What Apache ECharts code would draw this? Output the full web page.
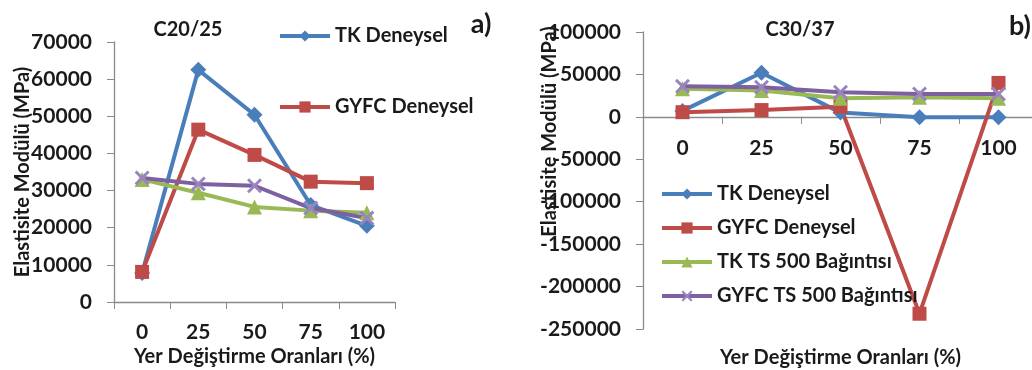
<!DOCTYPE html>
<html>
<head>
<meta charset="utf-8">
<script src="https://cdn.jsdelivr.net/npm/echarts@6/dist/echarts.min.js"></script>
<style>
  html, body { margin: 0; padding: 0; background: #fff; }
  #main { width: 1032px; height: 370px; }
</style>
</head>
<body>
<div id="main"></div>
<script>
// kategoriler (yer değiştirme oranı, %)
const categories = ['0', '25', '50', '75', '100'];

// C20/25 (a)
const tkDeneyselA = [7800, 62500, 50400, 26100, 20500];
const gyfcDeneyselA = [8100, 46400, 39600, 32400, 32000];
const tkTs500A = [33000, 29400, 25600, 24600, 24000];
const gyfcTs500A = [33400, 31800, 31300, 25300, 22600];

// C30/37 (b)
const tkDeneyselB = [7000, 52000, 5000, -500, -500];
const gyfcDeneyselB = [5500, 8000, 12000, -232000, 40000];
const tkTs500B = [33000, 31000, 22000, 23000, 22000];
const gyfcTs500B = [36000, 35000, 29000, 27000, 27000];

const leftTicks = { min: 0, max: 70000, interval: 10000 };
const rightTicks = { min: -250000, max: 100000, interval: 50000 };

const FONT = 'Lato';
const TXT = '#1a1a1a';
const AXIS = '#8a8a8a';
const colors = ['#4a7ebb', '#be4b48', '#98b954', '#7d60a0'];
const xSymbol = 'path://M0,1.4L1.4,0L10,8.6L8.6,10Z M8.6,0L10,1.4L1.4,10L0,8.6Z';

const gridA = { left: 114, top: 42, width: 281, height: 260 };
const gridB = { left: 643, top: 32, width: 395, height: 297 };
// b) grafiğinde x ekseni sıfır çizgisinde duruyor
const zeroOffsetB = -gridB.height * (0 - rightTicks.min) / (rightTicks.max - rightTicks.min);

let myChart = echarts.init(document.getElementById('main'));

function xAxisOf(gridIndex, labelMargin, nameGap, offset) {
    return {
        type: 'category',
        gridIndex: gridIndex,
        data: categories,
        boundaryGap: true,
        position: 'bottom',
        offset: offset,
        name: 'Yer Değiştirme Oranları (%)',
        nameLocation: 'middle',
        nameGap: nameGap,
        nameMoveOverlap: false,
        nameTextStyle: { fontFamily: FONT, fontWeight: 'bold', fontSize: 20, color: TXT },
        axisLine: { onZero: false, lineStyle: { color: AXIS, width: 1.3 } },
        axisTick: { show: true, length: 7, lineStyle: { color: AXIS } },
        axisLabel: { margin: labelMargin, fontFamily: FONT, fontWeight: 'bold', fontSize: 21, color: TXT },
        splitLine: { show: false }
    };
}

function yAxisOf(gridIndex, ticks, nameGap, namePadding) {
    return {
        type: 'value',
        gridIndex: gridIndex,
        min: ticks.min,
        max: ticks.max,
        interval: ticks.interval,
        name: 'Elastisite Modülü (MPa)',
        nameLocation: 'middle',
        nameGap: nameGap,
        nameMoveOverlap: false,
        nameTextStyle: { fontFamily: FONT, fontWeight: 'bold', fontSize: 20, color: TXT,
                         padding: namePadding },
        axisLine: { show: true, lineStyle: { color: AXIS, width: 1.3 } },
        axisTick: { show: true, length: 7, lineStyle: { color: AXIS } },
        axisLabel: { margin: 22, fontFamily: FONT, fontWeight: 'bold', fontSize: 21, color: TXT,
                     formatter: function (v) { return String(v); } },
        splitLine: { show: false }
    };
}

function seriesOf(name, data, idx, symbol, axisIdx) {
    return {
        name: name,
        type: 'line',
        xAxisIndex: axisIdx,
        yAxisIndex: axisIdx,
        data: data,
        symbol: symbol,
        symbolSize: symbol === 'diamond' ? 16 : (symbol === 'rect' ? 14 : 15),
        showSymbol: true,
        lineStyle: { width: 4, color: colors[idx] },
        itemStyle: { color: idx === 3 ? '#9a84c0' : colors[idx] },
        emphasis: { disabled: true },
        animation: false
    };
}

const legendText = { fontFamily: FONT, fontWeight: 'bold', fontSize: 20, color: TXT };
const legendLine = { width: 4 };

myChart.setOption({
    animation: false,
    title: [
        { text: 'C20/25', left: 183, top: 15, textAlign: 'center',
          textStyle: { fontFamily: FONT, fontWeight: 'bold', fontSize: 20, color: TXT } },
        { text: 'C30/37', left: 795, top: 15, textAlign: 'center',
          textStyle: { fontFamily: FONT, fontWeight: 'bold', fontSize: 20, color: TXT } },
        { text: 'a)', left: 476, top: 6, textAlign: 'center',
          textStyle: { fontFamily: FONT, fontWeight: 'bold', fontSize: 27, color: TXT } },
        { text: 'b)', left: 1015, top: 8, textAlign: 'center',
          textStyle: { fontFamily: FONT, fontWeight: 'bold', fontSize: 27, color: TXT } }
    ],
    legend: [
        { data: ['TK Deneysel'], left: 273, top: 21, itemWidth: 50, itemHeight: 14,
          textStyle: legendText, lineStyle: legendLine, selectedMode: false },
        { data: ['GYFC Deneysel'], left: 273, top: 92, itemWidth: 50, itemHeight: 14,
          textStyle: legendText, lineStyle: legendLine, selectedMode: false },
        { data: ['TK Deneysel', 'GYFC Deneysel', 'TK TS 500 Bağıntısı', 'GYFC TS 500 Bağıntısı'],
          orient: 'vertical', left: 655, top: 179, itemGap: 14, itemWidth: 50, itemHeight: 14,
          textStyle: legendText, lineStyle: legendLine, selectedMode: false }
    ],
    grid: [
        Object.assign({ outerBoundsMode: 'none' }, gridA),
        Object.assign({ outerBoundsMode: 'none' }, gridB)
    ],
    xAxis: [xAxisOf(0, 20, 45, 0), xAxisOf(1, 21, 231, zeroOffsetB)],
    yAxis: [yAxisOf(0, leftTicks, 81, 0), yAxisOf(1, rightTicks, 83, [0, 0, 0, 98])],
    series: [
        seriesOf('TK Deneysel', tkDeneyselA, 0, 'diamond', 0),
        seriesOf('GYFC Deneysel', gyfcDeneyselA, 1, 'rect', 0),
        seriesOf('TK TS 500 Bağıntısı', tkTs500A, 2, 'triangle', 0),
        seriesOf('GYFC TS 500 Bağıntısı', gyfcTs500A, 3, xSymbol, 0),
        seriesOf('TK Deneysel', tkDeneyselB, 0, 'diamond', 1),
        seriesOf('GYFC Deneysel', gyfcDeneyselB, 1, 'rect', 1),
        seriesOf('TK TS 500 Bağıntısı', tkTs500B, 2, 'triangle', 1),
        seriesOf('GYFC TS 500 Bağıntısı', gyfcTs500B, 3, xSymbol, 1)
    ]
});
</script>
</body>
</html>
